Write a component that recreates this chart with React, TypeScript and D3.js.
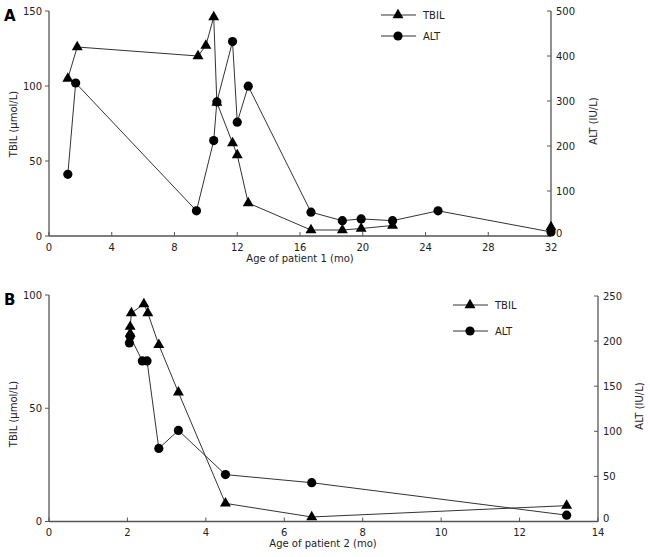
import React from "react";
import * as d3 from "d3";

// Panel A data (age in months, value)
const tbilA: [number, number][] = [
  [1.2, 105], [1.8, 126], [9.5, 120], [10.0, 127], [10.5, 146], [10.7, 89],
  [11.7, 62], [12.0, 54], [12.7, 22], [16.7, 4], [18.7, 4], [19.9, 5], [21.9, 7],
];
const tbilAUnlinked: [number, number][] = [[32, 6]];
const altA: [number, number][] = [
  [1.2, 137], [1.7, 340], [9.4, 56], [10.5, 212], [10.7, 298], [11.7, 432],
  [12.0, 253], [12.7, 333], [16.7, 53], [18.7, 34], [19.9, 38], [21.9, 34],
  [24.8, 56], [32, 9],
];
// Panel B data
const tbilB: [number, number][] = [
  [2.07, 83], [2.07, 86], [2.1, 92], [2.42, 96], [2.52, 92], [2.8, 78],
  [3.3, 57], [4.5, 8], [6.7, 2], [13.2, 7],
];
const altB: [number, number][] = [
  [2.05, 198], [2.07, 205], [2.38, 178], [2.5, 178], [2.8, 81], [3.3, 101],
  [4.5, 52], [6.7, 43], [13.2, 7],
];

const xTicksA = [0, 4, 8, 12, 16, 20, 24, 28, 32];
const yLTicksA = [0, 50, 100, 150];
const yRTicksA = [0, 100, 200, 300, 400, 500];
const xTicksB = [0, 2, 4, 6, 8, 10, 12, 14];
const yLTicksB = [0, 50, 100];
const yRTicksB = [0, 50, 100, 150, 200, 250];

const FONT = "'DejaVu Sans', Verdana, sans-serif";
const AXIS = "#555";
const LINE = "#333";

type PanelProps = {
  letter: string;
  xDomain: [number, number];
  yLDomain: [number, number];
  yRDomain: [number, number];
  left: number; right: number; top: number; topR: number; bottom: number;
  xTicks: number[]; yLTicks: number[]; yRTicks: number[];
  tbil: [number, number][]; tbilExtra: [number, number][]; alt: [number, number][];
  xLabel: string; xLabelX: number; yLabelY: number; yRLabelX: number; yRLabelY: number;
  legendX: number; legendY: number; legendGap: number;
};

function Panel(p: PanelProps) {
  const x = d3.scaleLinear().domain(p.xDomain).range([p.left, p.right]);
  const yL = d3.scaleLinear().domain(p.yLDomain).range([p.bottom, p.top]);
  const yR = d3.scaleLinear().domain(p.yRDomain).range([p.bottom, p.topR]);
  const lineL = d3.line<[number, number]>().x(d => x(d[0])).y(d => yL(d[1]));
  const lineR = d3.line<[number, number]>().x(d => x(d[0])).y(d => yR(d[1]));
  const tri = d3.symbol().type(d3.symbolTriangle).size(52)() as string;
  const fs = 10;
  return (
    <g fontFamily={FONT} fontSize={fs} fill="#222">
      <text x={4} y={p.top + 10} fontSize={15} fontWeight="bold" fill="#000">{p.letter}</text>
      {/* axes */}
      <line x1={p.left} x2={p.left} y1={p.top} y2={p.bottom} stroke={AXIS} strokeWidth={1.3} />
      <line x1={p.right} x2={p.right} y1={p.topR} y2={p.bottom} stroke={AXIS} strokeWidth={1.3} />
      <line x1={p.left} x2={p.right} y1={p.bottom} y2={p.bottom} stroke={AXIS} strokeWidth={1.3} />
      {p.yLTicks.map(t => (
        <g key={"l" + t}>
          <line x1={p.left - 4} x2={p.left} y1={yL(t)} y2={yL(t)} stroke={AXIS} />
          <text x={p.left - 7} y={yL(t)} dy="0.35em" textAnchor="end">{t}</text>
        </g>
      ))}
      {p.yRTicks.map(t => (
        <g key={"r" + t}>
          <line x1={p.right - 4} x2={p.right} y1={yR(t)} y2={yR(t)} stroke={AXIS} />
          <text x={p.right + 5} y={yR(t) - (t === 0 ? 3 : 0)} dy="0.35em" textAnchor="start">{t}</text>
        </g>
      ))}
      {p.xTicks.map(t => (
        <g key={"x" + t}>
          <line x1={x(t)} x2={x(t)} y1={p.bottom} y2={p.bottom - 4} stroke={AXIS} />
          <text x={x(t)} y={p.bottom + 11} dy="0.35em" textAnchor="middle">{t}</text>
        </g>
      ))}
      <text x={p.xLabelX} y={p.bottom + 22} dy="0.35em" textAnchor="middle">{p.xLabel}</text>
      <text transform={`translate(13,${p.yLabelY}) rotate(-90)`} textAnchor="middle" dy="0.35em">TBIL (μmol/L)</text>
      <text transform={`translate(${p.yRLabelX},${p.yRLabelY}) rotate(-90)`} textAnchor="middle" dy="0.35em">ALT (IU/L)</text>
      {/* series */}
      <path d={lineR(p.alt) as string} fill="none" stroke={LINE} strokeWidth={1} />
      <path d={lineL(p.tbil) as string} fill="none" stroke={LINE} strokeWidth={1} />
      {p.alt.map((d, i) => (
        <circle key={"a" + i} cx={x(d[0])} cy={yR(d[1])} r={4.6} fill="#000" />
      ))}
      {p.tbil.concat(p.tbilExtra).map((d, i) => (
        <path key={"t" + i} d={tri} transform={`translate(${x(d[0])},${yL(d[1])})`} fill="#000" />
      ))}
      {/* legend */}
      <g>
        <line x1={p.legendX} x2={p.legendX + 35} y1={p.legendY} y2={p.legendY} stroke={LINE} />
        <path d={tri} transform={`translate(${p.legendX + 17},${p.legendY})`} fill="#000" />
        <text x={p.legendX + 42} y={p.legendY} dy="0.35em">TBIL</text>
        <line x1={p.legendX} x2={p.legendX + 35} y1={p.legendY + p.legendGap} y2={p.legendY + p.legendGap} stroke={LINE} />
        <circle cx={p.legendX + 17} cy={p.legendY + p.legendGap} r={4.6} fill="#000" />
        <text x={p.legendX + 42} y={p.legendY + p.legendGap} dy="0.35em">ALT</text>
      </g>
    </g>
  );
}

export default function App() {
  return (
    <svg width={650} height={557} style={{ position: "absolute", left: 0, top: 0, background: "#fff" }}>
      <rect width={650} height={557} fill="#fff" />
      <Panel letter="A" xDomain={[0, 32]} yLDomain={[0, 150]} yRDomain={[0, 500]}
        left={49} right={551} top={11} topR={11} bottom={236}
        xTicks={xTicksA} yLTicks={yLTicksA} yRTicks={yRTicksA}
        tbil={tbilA} tbilExtra={tbilAUnlinked} alt={altA}
        xLabel="Age of patient 1 (mo)" xLabelX={300} yLabelY={124} yRLabelX={593} yRLabelY={121}
        legendX={381} legendY={15} legendGap={21} />
      <Panel letter="B" xDomain={[0, 14]} yLDomain={[0, 100]} yRDomain={[0, 250]}
        left={49} right={598} top={295} topR={296} bottom={521.5}
        xTicks={xTicksB} yLTicks={yLTicksB} yRTicks={yRTicksB}
        tbil={tbilB} tbilExtra={[]} alt={altB}
        xLabel="Age of patient 2 (mo)" xLabelX={323} yLabelY={414} yRLabelX={639} yRLabelY={406}
        legendX={453} legendY={305} legendGap={26} />
    </svg>
  );
}
